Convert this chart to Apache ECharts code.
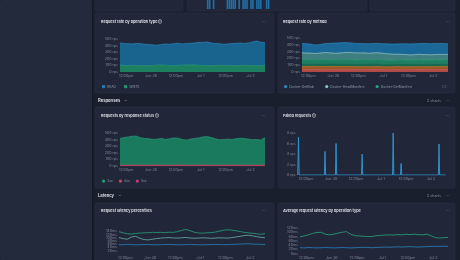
<!DOCTYPE html>
<html><head><meta charset="utf-8">
<script src="https://cdn.jsdelivr.net/npm/echarts@6/dist/echarts.min.js"></script>
<style>html,body{margin:0;padding:0;background:#1a1f2d;}#c{width:460px;height:260px;}</style>
</head><body><div id="c"></div><script>
// ---- data ----
const hours = [9,11,13,15,17,19,21,23,25,27,29,31,33,35,37,39,41,43,45,47,49,51,53,55,57,59,61,63,65,67,69,71,73,75,77,79];
const xTickHours = [12,24,36,48,60,72];
const xTickLabels = ['12:00pm','Jun 30','12:00pm','Jul 1','12:00pm','Jul 2'];

// Request rate by operation type (rps, stacked)
const WRITE = [105,100,98,102,100,97,95,98,100,104,106,102,100,98,101,104,108,110,106,102,100,98,96,99,101,103,100,98,97,99,102,100,98,96,99,101];
const READ = [334,330,330,323,332,331,325,317,310,301,312,323,320,330,334,321,322,325,334,348,348,357,344,333,327,317,325,332,338,339,330,340,357,374,351,344];

// Request rate by method (rps, stacked bottom -> top)
const legendMethods = ['Docker-GetBlob','Docker-HeadManifest','Docker-GetManifest'];
const legendPage = '1/2';
const mPutManifest = [36,35,37,36,34,35,36,38,37,35,34,36,37,35,34,36,35,37,36,35,34,33,35,36,34,35,36,35,34,36,35,34,36,35,37,36];
const mPatchBlob = [46,45,44,47,46,45,44,43,45,46,47,45,44,43,45,46,44,43,45,44,42,43,44,45,44,43,42,44,45,43,44,45,44,43,45,44];
const mPutBlob = [44,46,45,43,44,46,47,45,44,45,46,44,43,45,46,44,45,47,46,44,43,45,44,43,45,46,44,43,45,44,43,45,46,44,43,45];
const mGetManifest = [56,55,57,54,55,58,56,55,54,56,57,58,56,55,57,56,55,54,56,57,55,54,53,55,56,54,53,55,56,54,55,53,54,56,55,54];
const mHeadManifest = [100,98,95,92,96,100,102,98,95,97,100,103,105,102,100,98,96,99,101,98,95,90,85,82,80,78,76,78,80,79,77,76,78,80,79,78];
const mGetBlob = [138,136,132,126,125,128,135,143,150,149,148,144,140,140,136,136,140,138,136,139,145,147,149,151,156,158,161,159,158,164,164,163,160,162,158,158];

// Requests by response status (rps, stacked)
const s5xx = [2,2,3,2,2,1,2,2,3,2,2,2,1,2,2,3,2,2,2,1,2,2,3,2,2,2,1,2,2,3,2,2,2,1,2,2];
const s4xx = [10,11,9,12,10,11,10,9,11,12,10,9,10,11,12,10,9,10,11,10,12,11,10,9,10,11,10,12,11,10,9,10,11,10,12,11];
const s2xx = [405,418,429,437,439,414,405,401,388,393,405,391,401,413,408,389,381,395,404,415,427,433,418,401,385,389,396,388,399,409,406,395,384,391,378,418];

// Failed requests: [hour, rps] spikes
const failedSpikes = [[8.4,7.2],[21.1,4.5],[26.4,6.0],[38.9,4.0],[53.8,8.0],[57.6,2.2],[75.8,5.9]];

// Request latency percentiles (ms)
const p99 = [137,130,124,122,126,128,130,131,133,132,133,131,134,133,137,145,151,144,134,129,128,130,131,134,140,146,149,147,143,138,133,130,127,124,121,125];
const p95 = [100,94,90,104,108,96,88,86,90,94,97,99,100,98,97,99,101,98,96,97,99,98,96,97,99,98,97,100,104,108,113,115,111,106,102,99];
const p50 = [57,56,58,57,55,56,57,58,56,55,56,57,58,57,56,55,57,58,57,56,55,56,57,58,57,56,57,58,59,60,61,62,60,59,58,57];

// Average request latency by operation type (ms)
const avgWrite = [79,83,88,95,99,100,91,88,91,96,100,103,91,84,83,81,80,80,84,85,87,88,87,89,88,91,89,91,89,88,91,84,75,73,75,76];
const avgRead = [28,27,29,28,27,28,29,28,27,28,29,28,27,28,29,30,29,28,29,30,31,30,31,32,31,32,33,32,31,32,33,34,35,34,35,34];

// Top (cut-off) panel bars
const topBarSlots = [9,10,12,19,20,21,22,23,25,27,28,29,31,32,34,35,36,39,40];
const topBarValues = [12,12,12,12,12,12,12,12,12,12,12,12,12,12,12,12,12,12,12];

// ---- chart ----
const T0 = Date.UTC(2024,5,29,0,0,0), HR = 3600000;
const ts = h => T0 + h*HR;
const FONT = 'Inter, Roboto, "Noto Sans", sans-serif';
const pair = arr => arr.map((v,i)=>[ts(hours[i]), v]);
function failedLine(){
  const d=[[ts(8),0]];
  failedSpikes.forEach(([t,v])=>{d.push([ts(t-0.3),0],[ts(t),v],[ts(t+0.3),0]);});
  d.push([ts(79),0]);
  return d;
}
const axLabel = {color:'#7f879a', fontSize:3.6, fontFamily:FONT};
// hidden time axis carrying the series, plus a value axis (in hours) carrying the tick labels
function xAxPair(g, min, max){
  return [
    {type:'time', gridIndex:g, min:ts(min), max:ts(max), position:'bottom', show:false},
    {type:'value', gridIndex:g, min, max, position:'bottom',
      axisLine:{show:false}, axisTick:{show:false}, splitLine:{show:false},
      axisLabel:Object.assign({margin:2.3, customValues:xTickHours,
        formatter:v=>{const i=xTickHours.indexOf(v);return i<0?'':xTickLabels[i];}}, axLabel)}
  ];
}
function yAx(g, max, interval, unit){
  return {type:'value', gridIndex:g, min:0, max, interval,
    axisLine:{show:false}, axisTick:{show:false}, splitLine:{show:false},
    axisLabel:Object.assign({margin:2, formatter:'{value}'+unit}, axLabel)};
}
function area(name, g, stack, data, line, fill, icon){
  return {name, type:'line', xAxisIndex:2*g, yAxisIndex:g, stack, data:pair(data), symbol:'none',
    lineStyle:{width:0.7, color:line}, areaStyle:{color:fill, opacity:1},
    itemStyle:{color:icon||line}, emphasis:{disabled:true}};
}
function ln(name, g, data, color){
  return {name, type:'line', xAxisIndex:2*g, yAxisIndex:g, data:pair(data), symbol:'none',
    lineStyle:{width:0.8, color}, itemStyle:{color}, emphasis:{disabled:true}};
}
const R = (x,y,w,h,fill,stroke) => ({type:'rect', z:-10, silent:true, shape:{x,y,width:w,height:h,r:1.5}, style:{fill, stroke:stroke||null, lineWidth:0.6}});
const T = (x,y,text,o) => ({type:'text', z:50, silent:true, x, y, style:Object.assign({text, fill:'#dfe3ea', font:'600 3.8px '+FONT, verticalAlign:'middle'}, o||{})});
const chev = (x,y) => ({type:'polyline', z:50, silent:true, shape:{points:[[x,y-0.7],[x+1.2,y+0.5],[x+2.4,y-0.7]]}, style:{stroke:'#9aa2b5', lineWidth:0.5, fill:null}});
const dots = (x,y) => T(x,y,'···',{fill:'#6b7386', font:'600 4px '+FONT});
const gray = {fill:'#8a92a5', font:'400 3.6px '+FONT};

const panelFill='#212738', panelStroke='#2a3143';
const graphic = [
  R(0,0,92,260,'#232a3b'), R(92,0,1.2,260,'#151925'),
  R(95,-5,88,16,panelFill,panelStroke), R(187,-5,180,16,panelFill,panelStroke), R(370,-5,85,16,panelFill,panelStroke),
  R(95,13,179,80,panelFill,panelStroke), R(278,13,177,80,panelFill,panelStroke),
  R(95,107,179,81,panelFill,panelStroke), R(278,107,177,81,panelFill,panelStroke),
  R(95,203,179,70,panelFill,panelStroke), R(278,203,177,70,panelFill,panelStroke),
  T(101,22,'Request rate by operation type ⓘ'), dots(262,22),
  T(283,22,'Request rate by method'), dots(446,22),
  T(442,87,legendPage,{fill:'#6b7386', font:'400 3.3px '+FONT}),
  T(98,100.5,'Responses',{font:'600 4.2px '+FONT}), chev(124.5,100.5),
  T(427,100.5,'2 charts',gray), dots(446,100.5),
  T(101,116,'Requests by response status ⓘ'), dots(262,116),
  T(283,116,'Failed requests ⓘ'), dots(446,116),
  T(98,195.5,'Latency',{font:'600 4.2px '+FONT}), chev(118.5,195.5),
  T(427,195.5,'2 charts',gray), dots(446,195.5),
  T(101,211,'Request latency percentiles'), dots(262,211),
  T(283,211,'Average request latency by operation type'), dots(446,211)
];

const legText = {color:'#8e96a8', fontSize:3.3, fontFamily:FONT, padding:[0,0,0,-3]};
const option = {
  backgroundColor:'#1a1f2d',
  animation:false,
  useUTC:true,
  graphic,
  grid:[
    {left:120, top:39, width:145, height:33},
    {left:302, top:38, width:146, height:34},
    {left:120, top:133, width:145, height:33},
    {left:297.7, top:133, width:148, height:42},
    {left:119, top:228, width:146, height:36.8},
    {left:300, top:228, width:148, height:30},
    {left:190, top:-20, width:177, height:29}
  ],
  xAxis:[...xAxPair(0,9,79), ...xAxPair(1,9,79), ...xAxPair(2,9,79), ...xAxPair(3,8,79), ...xAxPair(4,9,79), ...xAxPair(5,9,79),
    {type:'value', gridIndex:6, min:0, max:90, show:false}],
  yAxis:[yAx(0,500,100,' rps'), yAx(1,500,100,' rps'), yAx(2,500,100,' rps'), yAx(3,8,2,' rps'),
    yAx(4,160,20,'ms'), yAx(5,120,20,'ms'),
    {type:'value', gridIndex:6, min:0, max:10, show:false}],
  legend:[
    {data:['READ','WRITE'], left:102, top:85, itemWidth:3.2, itemHeight:3.2, itemGap:8, icon:'roundRect', padding:0, textStyle:legText},
    {data:legendMethods, left:284, top:85, itemWidth:3.2, itemHeight:3.2, itemGap:11, icon:'circle', padding:0, textStyle:legText},
    {data:['2xx','4xx','5xx'], left:102, top:179.5, itemWidth:3.2, itemHeight:3.2, itemGap:6, icon:'circle', padding:0, textStyle:legText}
  ],
  series:[
    area('WRITE',0,'op',WRITE,'#27a07a','#1b7f60','#1f9470'),
    area('READ',0,'op',READ,'#2b86bd','#19638f','#1f7ab3'),
    area('Docker-PutManifest',1,'m',mPutManifest,'#cf605a','#b04a47'),
    area('Docker-PatchBlob',1,'m',mPatchBlob,'#c8782e','#9f5824'),
    area('Docker-PutBlob',1,'m',mPutBlob,'#1f8a68','#186953'),
    area('Docker-GetManifest',1,'m',mGetManifest,'#2aa07b','#1f7f63'),
    area('Docker-HeadManifest',1,'m',mHeadManifest,'#9fd3cf','#3f7d7f','#7fc4c0'),
    area('Docker-GetBlob',1,'m',mGetBlob,'#2d8ac2','#1b6898'),
    area('5xx',2,'s',s5xx,'#c2417a','#a8386a'),
    area('4xx',2,'s',s4xx,'#d0485e','#b23c50'),
    area('2xx',2,'s',s2xx,'#2a9d78','#1a7a5e'),
    {name:'failed', type:'line', xAxisIndex:6, yAxisIndex:3, data:failedLine(), symbol:'none',
      lineStyle:{width:0.9,color:'#2c9ad8'}, areaStyle:{color:'rgba(44,154,216,0.25)'}, emphasis:{disabled:true}},
    ln('p99',4,p99,'#26a27a'), ln('p95',4,p95,'#68b0a8'), ln('p50',4,p50,'#2a7fbf'),
    ln('WRITE avg',5,avgWrite,'#28a57c'), ln('READ avg',5,avgRead,'#2a80c0'),
    {name:'top', type:'bar', xAxisIndex:12, yAxisIndex:6, barWidth:1.6,
      data:topBarSlots.map((s,i)=>[s, topBarValues[i]]), itemStyle:{color:'#1f6fa8'}, emphasis:{disabled:true}}
  ]
};
const chart = echarts.init(document.getElementById('c'), null, {renderer:'canvas'});
chart.setOption(option);
</script></body></html>
